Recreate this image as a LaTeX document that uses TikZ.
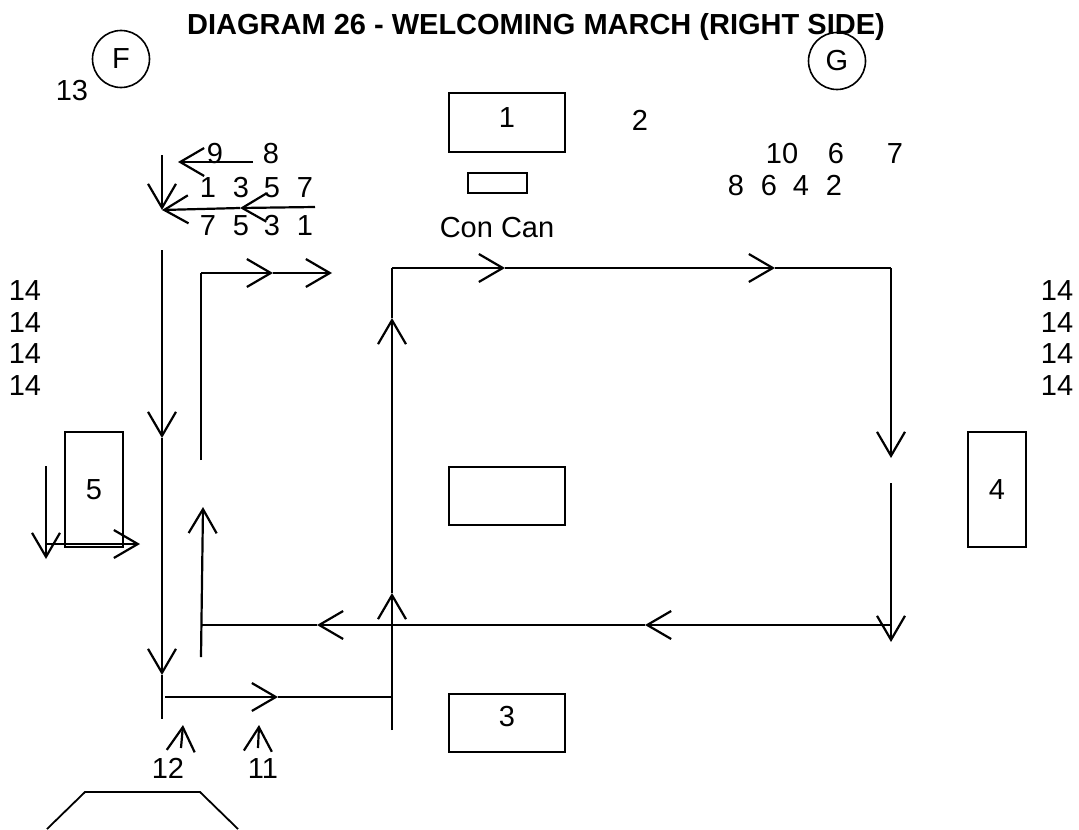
\documentclass[tikz,border=0pt]{standalone}
\usepackage{fontspec}
\setmainfont{Liberation Sans}
\usepackage{tikz}
\usetikzlibrary{arrows.meta}
\newcommand{\marchfont}{\fontsize{14.5}{17}\selectfont}
\tikzset{
  march/.style={-{Straight Barb[length=12pt,width=14pt]},line width=1.1pt},
  route/.style={line width=1.1pt},
  stand/.style={draw,line width=0.8pt,inner sep=0pt,font=\marchfont},
  post/.style={draw,circle,line width=0.8pt,inner sep=0pt,minimum size=28.5pt,font=\marchfont},
  numl/.style={anchor=base,inner sep=0pt,font=\marchfont},
  banner/.style={anchor=base,inner sep=0pt,font=\bfseries\marchfont},
}

\begin{document}
\begin{tikzpicture}[x=0.5pt,y=-0.5pt]
  \useasboundingbox (0,0) rectangle (1079,829);

  % ================= heading, posts, stands =================
  \node[banner] (title) at (536,35) {DIAGRAM 26 - WELCOMING MARCH (RIGHT SIDE)};
  \node[post] (posF) at (121,59) {F};
  \node[post] (posG) at (837,61) {G};
  \node[numl] (n13) at (72,100) {13};
  \node[stand,minimum width=58pt,minimum height=29.5pt,text depth=5pt] (stand1) at (507,122.5) {1};
  \node[numl] (n2) at (640,130) {2};
  \node[stand,minimum width=29.5pt,minimum height=10pt] (concan) at (497.5,183) {};
  \node[numl] (cclab) at (497,237) {Con Can};
  \node[stand,minimum width=58pt,minimum height=29pt] (centre) at (507,496) {};
  \node[stand,minimum width=58pt,minimum height=29pt,text depth=7pt] (stand3) at (507,723) {3};
  \node[stand,minimum width=29pt,minimum height=57.5pt] (stand4) at (997,489.5) {4};
  \node[stand,minimum width=29pt,minimum height=57.5pt] (stand5) at (94,489.5) {5};

  % counts beside the field
  \foreach \y [count=\i] in {300,332,363,395} {
    \node[numl] (wl\i) at (25,\y) {14};
    \node[numl] (wr\i) at (1057,\y) {14};
  }

  % ================= left files =================
  \node[numl] (n9) at (215,163) {9};
  \node[numl] (n8) at (271,163) {8};
  \foreach \n/\x in {1/208,3/241,5/272,7/305}
    \node[numl] (oa\n) at (\x,197) {\n};
  \foreach \n/\x in {7/208,5/241,3/272,1/305}
    \node[numl] (ob\n) at (\x,235) {\n};
  \coordinate (t0) at (162,155);
  \coordinate (t1) at (162,210);
  \coordinate (s0) at (253,162);
  \coordinate (s1) at (178,162);
  \coordinate (u0) at (315,207);
  \coordinate (u1) at (240,208);
  \draw[march] (t0) -- (t1);
  \draw[march] (s0) -- (s1);
  \draw[march] (u0) -- (u1);
  \draw[march] (u1) -- (t1);

  % ================= right files =================
  \node[numl] (m10) at (782,163) {10};
  \node[numl] (m6) at (836,163) {6};
  \node[numl] (m7) at (895,163) {7};
  \foreach \n/\x in {8/736,6/769,4/801,2/834}
    \node[numl] (ev\n) at (\x,195) {\n};

  % ================= long column =================
  \coordinate (c0) at (162,250);
  \coordinate (c1) at (162,438);
  \coordinate (c2) at (162,675);
  \coordinate (c3) at (162,719);
  \draw[march] (c0) -- (c1);
  \draw[march] (c1) -- (c2);
  \draw[route] (c2) -- (c3);

  % inner column, up then right
  \coordinate (b0) at (201,460);
  \coordinate (b1) at (201,273);
  \coordinate (b2) at (273,273);
  \coordinate (b3) at (332,273);
  \draw[route] (b0) -- (b1);
  \draw[march] (b1) -- (b2);
  \draw[march] (b2) -- (b3);
  \coordinate (d0) at (201,657);
  \coordinate (d1) at (203,507);
  \draw[march] (d0) -- (d1);

  % ================= square round the centre =================
  \coordinate (e0) at (392,730);
  \coordinate (e1) at (392,593);
  \coordinate (e2) at (392,318);
  \coordinate (e3) at (392,268);
  \coordinate (e4) at (505,268);
  \coordinate (e5) at (775,268);
  \coordinate (e6) at (891,268);
  \coordinate (e7) at (891,458);
  \draw[march] (e0) -- (e1);
  \draw[march] (e1) -- (e2);
  \draw[route] (e2) -- (e3);
  \draw[march] (e3) -- (e4);
  \draw[march] (e4) -- (e5);
  \draw[route] (e5) -- (e6);
  \draw[march] (e6) -- (e7);
  \coordinate (f0) at (891,483);
  \coordinate (f1) at (891,642);
  \draw[march] (f0) -- (f1);
  \coordinate (g0) at (891,625);
  \coordinate (g1) at (645,625);
  \coordinate (g2) at (317,625);
  \coordinate (g3) at (201,625);
  \draw[march] (g0) -- (g1);
  \draw[march] (g1) -- (g2);
  \draw[route] (g2) -- (g3);

  % ================= bottom entry =================
  \coordinate (h0) at (165,697);
  \coordinate (h1) at (278,697);
  \coordinate (h2) at (393,697);
  \draw[march] (h0) -- (h1);
  \draw[route] (h1) -- (h2);
  \node[numl] (n12) at (168,778) {12};
  \node[numl] (n11) at (263,778) {11};
  \coordinate (k0) at (181,748);
  \coordinate (k1) at (183,725);
  \coordinate (k2) at (258,748);
  \coordinate (k3) at (259,725);
  \draw[march] (k0) -- (k1);
  \draw[march] (k2) -- (k3);

  % beside stand 5
  \coordinate (p0) at (46,466);
  \coordinate (p1) at (46,559);
  \coordinate (p2) at (46,544);
  \coordinate (p3) at (140,544);
  \draw[march] (p0) -- (p1);
  \draw[march] (p2) -- (p3);

  % dais at the foot
  \coordinate (q0) at (47,829);
  \coordinate (q1) at (85,792);
  \coordinate (q2) at (200,792);
  \coordinate (q3) at (238,829);
  \draw[line width=0.9pt] (q0) -- (q1) -- (q2) -- (q3);
\end{tikzpicture}
\end{document}
